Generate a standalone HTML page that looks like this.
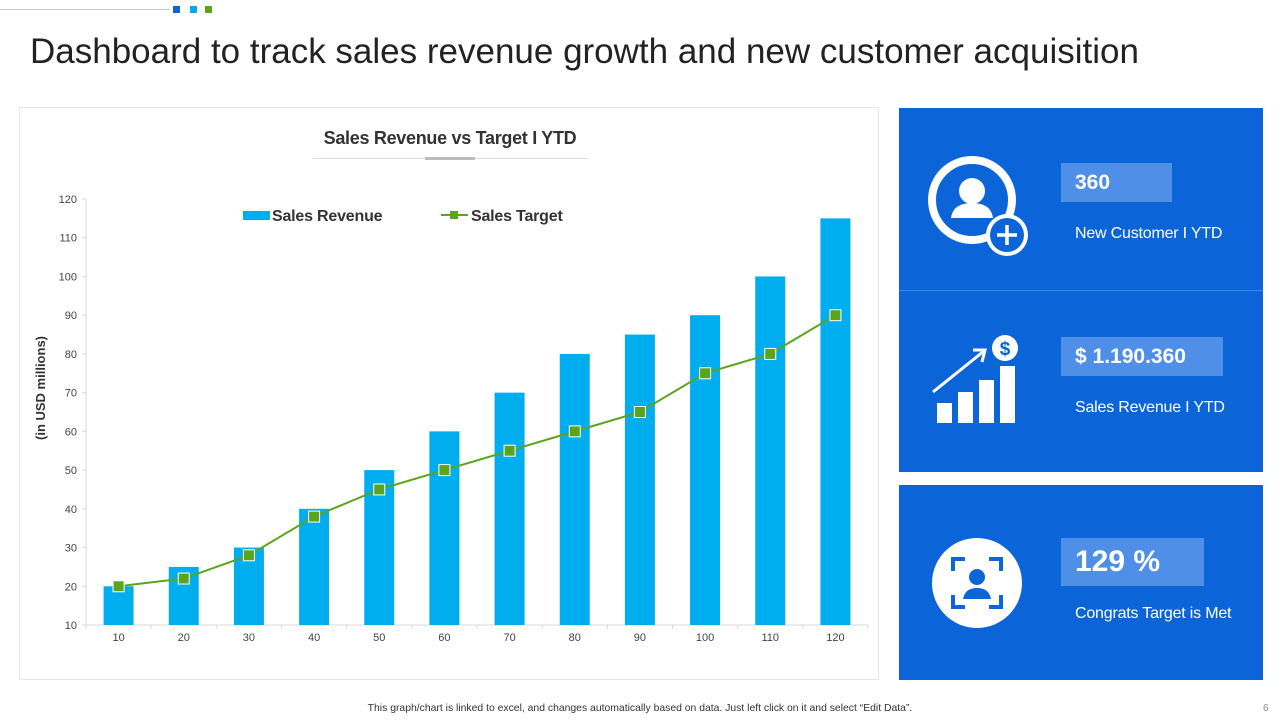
<!DOCTYPE html>
<html><head><meta charset="utf-8"><style>
body{margin:0;width:1280px;height:720px;background:#fff;font-family:"Liberation Sans",Arial,sans-serif;position:relative;overflow:hidden}
.abs{position:absolute}
.panel{position:absolute;left:899px;width:364px;background:#0b65d8}
.box{position:absolute;left:162px;height:39px;background:#4f8fe8;color:#fff;font-weight:bold;font-size:21px;line-height:39px;padding-left:14px;box-sizing:border-box}
.lbl{position:absolute;left:176px;color:#fff;font-size:16px;letter-spacing:-0.2px}
</style></head><body>
<div class="abs" style="left:0;top:9px;width:170px;height:1px;background:#ccc"></div>
<div class="abs" style="left:173px;top:6px;width:7px;height:7px;background:#0b65d8"></div>
<div class="abs" style="left:190px;top:6px;width:7px;height:7px;background:#0aa6e8"></div>
<div class="abs" style="left:205px;top:6px;width:7px;height:7px;background:#5aa51c"></div>
<div class="abs" style="left:30px;top:32px;font-size:35px;color:#222;white-space:nowrap">Dashboard to track sales revenue growth and new customer acquisition</div>

<div class="abs" style="left:19px;top:107px;width:860px;height:573px;border:1px solid #e6e6e6;box-sizing:border-box"></div>
<svg class="abs" style="left:0;top:0" width="900" height="700" id="chart"></svg>

<div class="panel" style="top:108px;height:182px">
 <svg class="abs" style="left:26px;top:45px" width="110" height="110" viewBox="0 0 110 110">
  <circle cx="47" cy="47" r="40" fill="none" stroke="#fff" stroke-width="8"/>
  <circle cx="47" cy="38" r="13" fill="#fff"/><path d="M26 65 Q28 50 47 50 Q66 50 68 65 Z" fill="#fff"/>
  <circle cx="82" cy="82" r="21" fill="#fff"/><circle cx="82" cy="82" r="17" fill="#0b65d8"/>
  <path d="M82 72V92M72 82H92" stroke="#fff" stroke-width="3.5"/>
 </svg>
 <div class="box" style="top:55px;width:111px">360</div>
 <div class="lbl" style="top:117px">New Customer I YTD</div>
</div>
<div class="abs" style="left:899px;top:290px;width:364px;height:1px;background:#3f86e6"></div>
<div class="panel" style="top:291px;height:181px">
 <svg class="abs" style="left:30px;top:42px" width="95" height="95" viewBox="0 0 95 95">
  <rect x="8" y="70" width="15" height="20" fill="#fff"/><rect x="29" y="59" width="15" height="31" fill="#fff"/>
  <rect x="50" y="47" width="15" height="43" fill="#fff"/><rect x="71" y="33" width="15" height="57" fill="#fff"/>
  <path d="M4 59 L55 18" stroke="#fff" stroke-width="3"/><path d="M44 17 L56 17 L53 29" fill="none" stroke="#fff" stroke-width="3"/>
  <circle cx="76" cy="15" r="13" fill="#fff"/><text x="76" y="22" text-anchor="middle" font-size="19" font-weight="bold" fill="#0b65d8">$</text>
 </svg>
 <div class="box" style="top:46px;width:162px">$ 1.190.360</div>
 <div class="lbl" style="top:108px">Sales Revenue  I YTD</div>
</div>
<div class="panel" style="top:485px;height:195px">
 <svg class="abs" style="left:32px;top:52px" width="92" height="92" viewBox="0 0 92 92">
  <circle cx="46" cy="46" r="45" fill="#fff"/>
  <path d="M22 34V22H34M58 22H70V34M70 58V70H58M34 70H22V58" fill="none" stroke="#0b65d8" stroke-width="4"/>
  <circle cx="46" cy="40" r="8" fill="#0b65d8"/><path d="M32 62 Q34 51 46 51 Q58 51 60 62Z" fill="#0b65d8"/>
 </svg>
 <div class="box" style="top:53px;width:143px;height:48px;line-height:48px;font-size:30px">129 %</div>
 <div class="lbl" style="top:120px">Congrats Target is Met</div>
</div>
<div class="abs" style="left:0;width:1280px;top:703px;text-align:center;font-size:10.4px;color:#333">This graph/chart is linked to excel, and changes automatically based on data. Just left click on it and select “Edit Data”.</div>
<div class="abs" style="left:1263px;top:703px;font-size:10px;color:#888">6</div>
<script>
const categories=[10,20,30,40,50,60,70,80,90,100,110,120];
const revenue=[20,25,30,40,50,60,70,80,85,90,100,115];
const target=[20,22,28,38,45,50,55,60,65,75,80,90];
const yTicks=[10,20,30,40,50,60,70,80,90,100,110,120];
const svg=document.getElementById('chart');const NS='http://www.w3.org/2000/svg';
const x0=86,x1=868,yMin=10,yMax=120,py0=625,py1=199;
const step=(x1-x0)/categories.length;
const xs=i=>x0+step*(i+0.5);
const ys=v=>py0-(v-yMin)/(yMax-yMin)*(py0-py1);
function el(t,a,p){const e=document.createElementNS(NS,t);for(const k in a)e.setAttribute(k,a[k]);(p||svg).appendChild(e);return e;}
let t=el('text',{x:450,y:144,'text-anchor':'middle','font-size':18,'font-weight':'bold',fill:'#333','letter-spacing':'-0.3'});t.textContent='Sales Revenue vs Target I YTD';


el('line',{x1:313,x2:588,y1:158.5,y2:158.5,stroke:'#ddd'});
el('line',{x1:425,x2:475,y1:158.5,y2:158.5,stroke:'#bbb','stroke-width':3});
el('line',{x1:x0,x2:x0,y1:py1,y2:py0,stroke:'#d9d9d9'});
el('line',{x1:x0,x2:x1,y1:py0,y2:py0,stroke:'#d9d9d9'});
yTicks.forEach(v=>{const y=ys(v);el('line',{x1:x0-4,x2:x0,y1:y,y2:y,stroke:'#d9d9d9'});
 const tt=el('text',{x:77,y:y+4,'text-anchor':'end','font-size':11,fill:'#444'});tt.textContent=v;
 
 });
for(let i=0;i<=categories.length;i++){el('line',{x1:x0+step*i,x2:x0+step*i,y1:py0,y2:py0+4,stroke:'#d9d9d9'});}
categories.forEach((c,i)=>{
 const b=el('rect',{x:xs(i)-15,y:ys(revenue[i]),width:30,height:py0-ys(revenue[i]),fill:'#00adef'});
 
 
 const tt=el('text',{x:xs(i),y:641,'text-anchor':'middle','font-size':11,fill:'#444'});tt.textContent=c;
 
 
});
const ln=el('polyline',{points:target.map((v,i)=>xs(i)+','+ys(v)).join(' '),fill:'none',stroke:'#5aa51c','stroke-width':2});


target.forEach((v,i)=>{const p=el('rect',{x:xs(i)-5.5,y:ys(v)-5.5,width:11,height:11,fill:'#5aa51c',stroke:'#fff','stroke-width':1});
 
 });
const yt=el('text',{transform:'translate(45,388) rotate(-90)','text-anchor':'middle','font-size':13,'font-weight':'bold',fill:'#333'});yt.textContent='(in USD millions)';


el('rect',{x:243,y:211,width:27,height:9,fill:'#00adef'});
const l1=el('text',{x:272,y:221,'font-size':16,'font-weight':'bold',fill:'#333','letter-spacing':'-0.2'});l1.textContent='Sales Revenue';


el('line',{x1:441,x2:468,y1:215,y2:215,stroke:'#5aa51c','stroke-width':2});
el('rect',{x:450,y:211,width:8,height:8,fill:'#5aa51c'});
const l2=el('text',{x:471,y:221,'font-size':16,'font-weight':'bold',fill:'#333','letter-spacing':'-0.2'});l2.textContent='Sales Target';


</script>
</body></html>
